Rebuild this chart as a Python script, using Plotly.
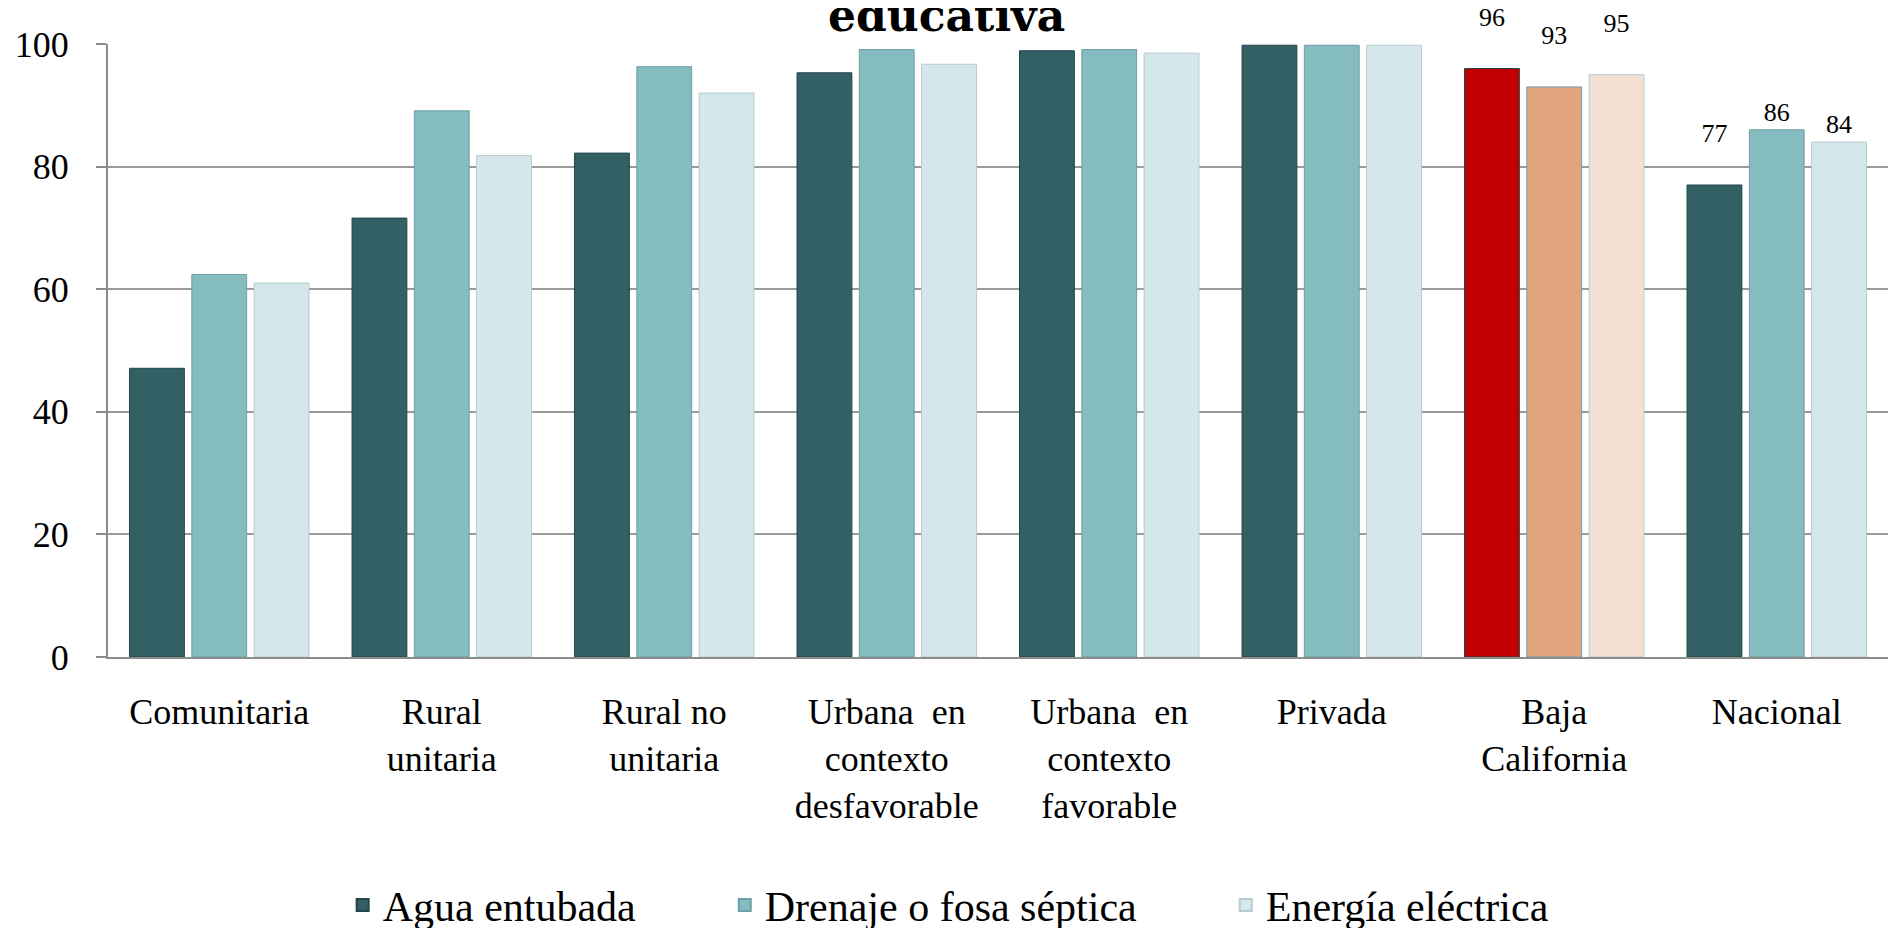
import plotly.graph_objects as go

categories = [
    "Comunitaria",
    "Rural<br>unitaria",
    "Rural no<br>unitaria",
    "Urbana  en<br>contexto<br>desfavorable",
    "Urbana  en<br>contexto<br>favorable",
    "Privada",
    "Baja<br>California",
    "Nacional",
]

agua = [47.1, 71.6, 82.2, 95.3, 98.9, 99.8, 96, 77]
drenaje = [62.4, 89.1, 96.3, 99.1, 99.1, 99.8, 93, 86]
energia = [61.0, 81.8, 92.0, 96.7, 98.5, 99.8, 95, 84]

# labels only shown for the last two groups
labeled = {"Baja<br>California", "Nacional"}

series = [
    ("Agua entubada", agua, "#336065", "#C00000", "#234548"),
    ("Drenaje o fosa séptica", drenaje, "#84BCC0", "#E2A47F", "#6E9FA3"),
    ("Energía eléctrica", energia, "#D4E8EB", "#F4DFD3", "#B7CACD"),
]

FONT = "Liberation Serif"
pad = "\u00a0" * 8


def label(name, cat, v):
    if cat not in labeled:
        return ""
    # most labels float a line above their bar in the original
    if cat == "Nacional" and name != "Agua entubada":
        return f"{v:.0f}"
    return f"{v:.0f}<br>\u00a0"


fig = go.Figure()
for name, vals, color, bc_color, edge in series:
    colors = [bc_color if c == "Baja<br>California" else color for c in categories]
    fig.add_trace(go.Bar(
        name=name + pad if name != "Energía eléctrica" else name,
        x=categories,
        y=vals,
        marker=dict(color=colors, line=dict(color=edge, width=1)),
        text=[label(name, c, v) for c, v in zip(categories, vals)],
        textposition="outside",
        textfont=dict(family=FONT, size=26, color="black"),
        cliponaxis=False,
        hovertemplate="%{x}: %{y:.1f}<extra>" + name + "</extra>",
    ))

# title is cut at the top of the page in the original, only the last word shows
fig.add_annotation(
    text="<b>educativa</b>",
    xref="paper", yref="paper",
    x=0.471, y=1.002,
    xanchor="center", yanchor="bottom",
    showarrow=False,
    font=dict(family="DejaVu Serif", size=44, color="black"),
)

# page body has an 8px margin, so the figure is a bit smaller than the window
fig.update_layout(
    template="plotly_white",
    width=1890,
    height=920,
    barmode="group",
    bargap=0.16,
    bargroupgap=0.12,
    margin=dict(l=100, r=10, t=36, b=271, autoexpand=False),
    font=dict(family=FONT, size=36, color="black"),
    plot_bgcolor="white",
    paper_bgcolor="white",
    uniformtext=dict(minsize=20, mode="show"),
    legend=dict(
        orientation="h",
        x=0.472, xanchor="center",
        y=-0.405, yanchor="middle",
        font=dict(family=FONT, size=42),
        itemsizing="constant",
    ),
)

fig.update_xaxes(
    showgrid=False,
    showline=True,
    linecolor="#8c8c8c",
    linewidth=2,
    tickfont=dict(family=FONT, size=36),
    ticks="",
    ticklabelstandoff=22,
)
fig.update_yaxes(
    range=[0, 100],
    dtick=20,
    showgrid=True,
    gridcolor="#9a9a9a",
    gridwidth=2,
    showline=True,
    linecolor="#8c8c8c",
    linewidth=2,
    ticks="outside",
    ticklen=10,
    tickcolor="#8c8c8c",
    tickwidth=2,
    ticklabelstandoff=20,
    zeroline=False,
    tickfont=dict(family=FONT, size=36),
)

fig.write_html("out.html")
